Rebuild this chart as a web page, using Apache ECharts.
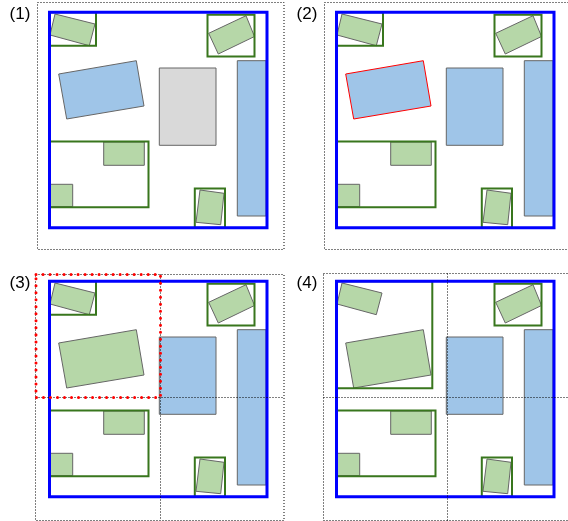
<!DOCTYPE html>
<html>
<head>
<meta charset="utf-8">
<script src="https://cdn.jsdelivr.net/npm/echarts@6/dist/echarts.min.js"></script>
<style>html,body{margin:0;padding:0;background:#fff}#c{width:568px;height:521px}</style>
</head>
<body>
<div id="c"></div>
<script>
// ---- Data (local panel units) ----
const panelLabels = ['(1)', '(2)', '(3)', '(4)'];
const panelOrigins = [[0, 0], [287, 0], [0, 269], [287, 269]];
const outerBoxes = [[37.5, 2.5, 284, 249.5], [37.5, 2.5, 290, 249.5], [35.5, 5.5, 284, 251.5], [36.5, 4.5, 290, 251.5]];
const blueFrame = [49.5, 12.2, 267, 227.7];
const greenBoxesCommon = [[207.5, 14.8, 254.5, 56.5], [49.5, 141.5, 148.5, 207.3], [194.8, 188.5, 225, 227.7]];
const topLeftBox = [49.5, 12.2, 96, 45.8];
const mergedBox = [49.5, 12.2, 145.3, 119.3];
const tlRot = [[55, 14], [95, 24], [89.3, 45.7], [50, 35]];
const trRot = [[208.7, 33.3], [246, 15.7], [254.5, 36.5], [218.3, 54]];
const midRot = [[58.7, 74], [136.3, 60.7], [144, 106], [66.7, 119]];
const botRot = [[200, 190], [224, 193.3], [220.7, 224.7], [196, 222.3]];
const midRect = [159.3, 68, 216, 145.3];
const tallRect = [237.3, 60.7, 266, 216];
const smallRectA = [103.7, 142, 144.3, 165.3];
const smallRectB = [49.5, 184.3, 72.7, 206.7];
const midRotFill = ['#9fc5e8', '#9fc5e8', '#b6d7a8', '#b6d7a8'];
const midRotStroke = ['#666666', '#ff0000', '#666666', '#666666'];
const midRectFill = ['#d9d9d9', '#9fc5e8', '#9fc5e8', '#9fc5e8'];
const hasTopLeftBox = [true, true, true, false];
const hasMergedBox = [false, false, false, true];
const splitX = [null, null, 160.5, 160.5];
const splitY = [null, null, 128.5, 128.5];
const redBoxes = [null, null, [36, 5.5, 160.5, 128.5], null];
const labelPos = [20, 14.6];

// ---- helpers ----
function rectPts(r) { return [[r[0], r[1]], [r[2], r[1]], [r[2], r[3]], [r[0], r[3]]]; }
const LIGHT = '#b6d7a8', GREEN = '#38761d', EDGE = '#666666';

function panelShapes(k) {
  const s = [];
  const ob = outerBoxes[k];
  s.push({t: 'poly', pts: rectPts(ob), fill: 'none', stroke: '#000', lw: 1, dash: [1, 2]});
  s.push({t: 'poly', pts: tlRot, fill: LIGHT, stroke: EDGE, lw: 1});
  s.push({t: 'poly', pts: trRot, fill: LIGHT, stroke: EDGE, lw: 1});
  s.push({t: 'poly', pts: midRot, fill: midRotFill[k], stroke: midRotStroke[k], lw: 1});
  s.push({t: 'poly', pts: rectPts(midRect), fill: midRectFill[k], stroke: EDGE, lw: 1});
  s.push({t: 'poly', pts: rectPts(tallRect), fill: '#9fc5e8', stroke: EDGE, lw: 1});
  s.push({t: 'poly', pts: rectPts(smallRectA), fill: LIGHT, stroke: EDGE, lw: 1});
  s.push({t: 'poly', pts: rectPts(smallRectB), fill: LIGHT, stroke: EDGE, lw: 1});
  s.push({t: 'poly', pts: botRot, fill: LIGHT, stroke: EDGE, lw: 1});
  greenBoxesCommon.forEach(b => s.push({t: 'poly', pts: rectPts(b), fill: 'none', stroke: GREEN, lw: 2}));
  if (hasTopLeftBox[k]) s.push({t: 'poly', pts: rectPts(topLeftBox), fill: 'none', stroke: GREEN, lw: 2});
  if (hasMergedBox[k]) s.push({t: 'poly', pts: rectPts(mergedBox), fill: 'none', stroke: GREEN, lw: 2});
  s.push({t: 'poly', pts: rectPts(blueFrame), fill: 'none', stroke: '#0000ff', lw: 3});
  if (splitX[k] != null) {
    s.push({t: 'line', pts: [[splitX[k], ob[1]], [splitX[k], ob[3]]], stroke: '#000', lw: 1, dash: [1, 2]});
    s.push({t: 'line', pts: [[ob[0], splitY[k]], [ob[2], splitY[k]]], stroke: '#000', lw: 1, dash: [1, 2]});
  }
  if (redBoxes[k]) s.push({t: 'poly', pts: rectPts(redBoxes[k]), fill: 'none', stroke: '#ff0000', lw: 3, dash: [0.01, 7], cap: 'round'});
  s.push({t: 'text', pt: labelPos, text: panelLabels[k]});
  return s;
}

const grids = [], xAxes = [], yAxes = [], series = [];
panelOrigins.forEach((o, k) => {
  grids.push({left: o[0], top: o[1], width: 280, height: 250, containLabel: false});
  xAxes.push({gridIndex: k, type: 'value', min: 0, max: 280, show: false});
  yAxes.push({gridIndex: k, type: 'value', min: 0, max: 250, inverse: true, show: false});
  const shapes = panelShapes(k);
  series.push({
    type: 'custom', xAxisIndex: k, yAxisIndex: k, clip: false, silent: true, animation: false,
    data: shapes.map((_, i) => [i]),
    renderItem: function (params, api) {
      const sh = shapes[params.dataIndex];
      if (sh.t === 'text') {
        const p = api.coord(sh.pt);
        return {type: 'text', x: p[0], y: p[1], style: {text: sh.text, fill: '#000', fontSize: 17,
          fontFamily: 'Liberation Sans, Arial, sans-serif', align: 'center', verticalAlign: 'middle'}};
      }
      const pts = sh.pts.map(p => api.coord(p));
      if (sh.t === 'line') {
        return {type: 'polyline', shape: {points: pts}, style: {stroke: sh.stroke, lineWidth: sh.lw, lineDash: sh.dash || null, fill: 'none'}};
      }
      return {type: 'polygon', shape: {points: pts},
        style: {fill: sh.fill, stroke: sh.stroke, lineWidth: sh.lw, lineDash: sh.dash || null,
          lineCap: sh.cap || 'butt', lineJoin: 'miter'}};
    }
  });
});

const chart = echarts.init(document.getElementById('c'), null, {renderer: 'canvas'});
chart.setOption({animation: false, grid: grids, xAxis: xAxes, yAxis: yAxes, series: series});
</script>
</body>
</html>
